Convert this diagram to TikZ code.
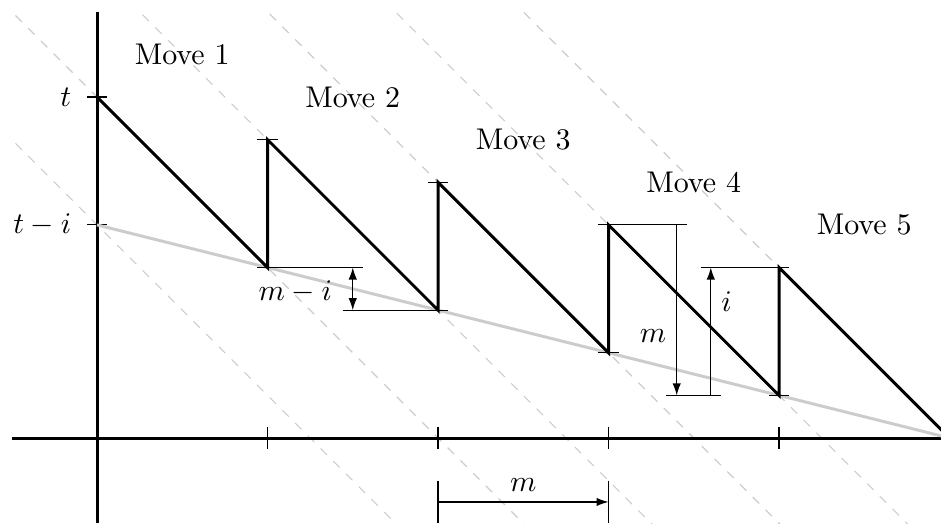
\documentclass[tikz,border=0pt]{standalone}
\usetikzlibrary{arrows.meta}
\begin{document}
\begin{tikzpicture}[x=2cm, y=2cm,
    axis/.style={line width=1pt},
    saw/.style={line width=1pt, line join=miter},
    guide/.style={gray!40, dashed},
    tk/.style={thin},
    dim/.style={thin, -{Latex[length=4pt, width=2.8pt]}}]
\useasboundingbox (-0.569,-0.534) rectangle (4.95,2.569);
% diagonali
\begin{scope}
    \clip (-0.5,-0.5) rectangle (5,2.5);
    \foreach \k in {0,...,5} {
        \draw[guide] (-1,{2.25+0.75*\k}) -- ({2.25+0.75*\k},-1);
    }
\end{scope}
% assi
\draw[axis] (-0.5,0) -- (5,0);
\draw[axis] (0,-0.5) -- (0,2.5);
\foreach \x in {1,...,4} {
    \draw[tk] (\x,0.065) -- (\x,-0.065);
}
\draw[tk] (-0.06,2) -- (0.06,2);
\draw[tk] (-0.06,1.25) -- (0.06,1.25);
\node[left] (lt) at (-0.09,2) {$t$};
\node[left] (lti) at (-0.09,1.25) {$t-i$};
\draw[gray!40, line width=1pt] (0,1.25) -- (5,0);
% denti
\foreach \k in {0,...,4} {
    \coordinate (p\k) at (\k,{2-0.25*\k});
    \coordinate (q\k) at ({\k+1},{1-0.25*\k});
}
\draw[saw] (p0) -- (q0) -- (p1) -- (q1) -- (p2) -- (q2) -- (p3) -- (q3) -- (p4) -- (q4);
\foreach \c in {p1,p2,q2,q3} {
    \draw[tk] ([xshift=-0.12cm]\c) -- ([xshift=0.12cm]\c);
}
\foreach \k in {1,...,5} {
    \node (mv\k) at ({\k-0.5},{2.5-0.25*\k}) {Move \k};
}
% quote
\draw[tk] (0.94,1) -- (1.56,1);
\draw[tk] (1.44,0.75) -- (2.06,0.75);
\draw[thin, {Latex[length=4pt, width=2.8pt]}-{Latex[length=4pt, width=2.8pt]}] (1.5,1) -- (1.5,0.75);
\node[left] (lmi) at (1.44,0.86) {$m-i$};
\draw[tk] (2.94,1.25) -- (3.46,1.25);
\draw[tk] (3.34,0.25) -- (3.66,0.25);
\draw[tk] (3.54,1) -- (4.06,1);
\draw[dim] (3.4,1.25) -- (3.4,0.25);
\draw[dim] (3.6,0.25) -- (3.6,1);
\node[left] (lm) at (3.4,0.6) {$m$};
\node[right] (li) at (3.6,0.8) {$i$};
\draw[tk] (2,-0.25) -- (2,-0.5);
\draw[tk] (3,-0.25) -- (3,-0.5);
\draw[dim] (2,-0.375) -- (3,-0.375);
\node[above] (lmb) at (2.5,-0.375) {$m$};
\end{tikzpicture}
\end{document}
